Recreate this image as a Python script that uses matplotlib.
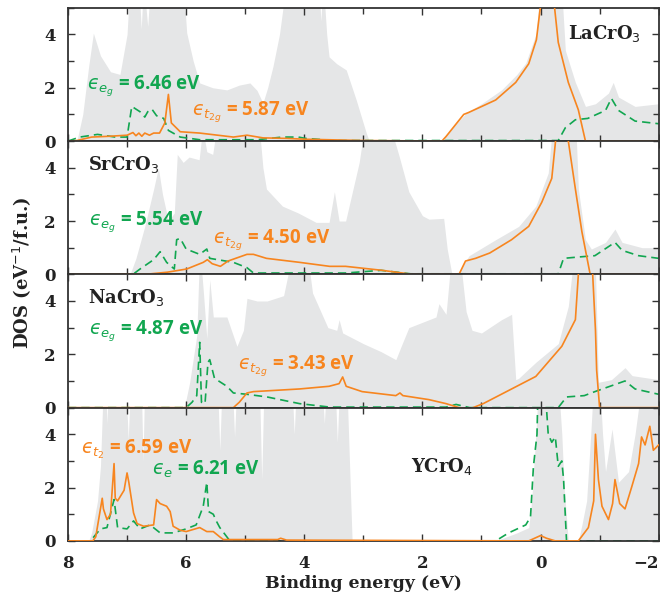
import matplotlib
matplotlib.use("Agg")
import matplotlib.pyplot as plt
import numpy as np
from matplotlib.ticker import MultipleLocator

# --- data (binding energy eV, DOS) ---
compounds = ["LaCrO$_3$", "SrCrO$_3$", "NaCrO$_3$", "YCrO$_4$"]

la_total = [(8.0, 0), (7.85, 0), (7.75, 1.0), (7.65, 2.8), (7.57, 4.05), (7.45, 3.2), (7.28, 2.6),
            (7.12, 2.5), (7.0, 4.0), (6.95, 6), (6.8, 6), (6.76, 4.2), (6.72, 6), (6.65, 4.3),
            (6.6, 6), (6.05, 6), (5.99, 4.06), (5.88, 3.0), (5.77, 2.18), (5.55, 2.0), (5.31, 1.92),
            (5.1, 2.1), (4.92, 2.18), (4.8, 1.9), (4.70, 1.43), (4.62, 2.0), (4.53, 2.8), (4.42, 4.0),
            (4.30, 6), (3.75, 6), (3.72, 4.5), (3.68, 6), (3.62, 4.0), (3.58, 3.16), (3.45, 2.9),
            (3.29, 2.67), (3.12, 1.54), (2.95, 0.3), (2.9, 0), (1.7, 0), (1.6, 0.2), (1.45, 0.6),
            (1.26, 1.05), (1.0, 1.4), (0.66, 1.92), (0.4, 2.5), (0.25, 2.93), (0.07, 4.06), (0.0, 6),
            (-0.35, 6), (-0.42, 3.4), (-0.59, 2.2), (-0.76, 1.3), (-0.93, 1.4), (-1.15, 1.8),
            (-1.23, 2.2), (-1.32, 1.65), (-1.6, 1.3), (-2.0, 1.4)]
la_t2g = [(8.0, 0), (7.85, 0.02), (7.6, 0.15), (7.3, 0.18), (7.0, 0.22), (6.9, 0.32), (6.85, 0.2),
          (6.8, 0.3), (6.75, 0.18), (6.7, 0.3), (6.62, 0.22), (6.55, 0.3), (6.45, 0.3), (6.36, 0.68),
          (6.3, 1.75), (6.25, 0.68), (6.1, 0.35), (5.77, 0.3), (5.2, 0.15), (4.97, 0.22),
          (4.7, 0.12), (4.3, 0.1), (4.0, 0.07), (3.0, 0.02), (1.67, 0.0), (1.6, 0.17), (1.3, 1.0),
          (1.22, 1.07), (0.76, 1.54), (0.42, 2.2), (0.2, 2.9), (0.07, 3.8), (-0.05, 6), (-0.19, 6),
          (-0.3, 3.7), (-0.47, 2.2), (-0.64, 1.17), (-0.76, 0.0), (-2.0, 0.0)]
la_eg = [(8.0, 0), (7.8, 0.15), (7.5, 0.25), (7.2, 0.15), (7.0, 0.15), (6.92, 1.3), (6.78, 1.1),
         (6.7, 0.9), (6.65, 1.1), (6.58, 1.2), (6.5, 0.95), (6.38, 0.85), (6.3, 0.4), (6.1, 0.15),
         (5.77, 0.05), (4.8, 0.05), (4.37, 0.15), (4.1, 0.15), (3.98, 0.1), (3.5, 0.02),
         (-0.3, 0.02), (-0.42, 0.5), (-0.59, 0.8), (-0.8, 0.85), (-1.1, 1.15), (-1.2, 1.6),
         (-1.32, 1.15), (-1.6, 0.75), (-2.0, 0.65)]

sr_total = [(8.0, 0), (6.95, 0), (6.85, 0.6), (6.7, 1.8), (6.55, 3.2), (6.47, 4.0), (6.4, 3.0),
            (6.3, 2.0), (6.2, 2.3), (6.15, 4.5), (6.05, 4.2), (5.95, 4.4), (5.78, 4.3), (5.72, 5.5),
            (5.65, 4.6), (5.55, 4.5), (5.45, 6), (4.78, 6), (4.7, 4.0), (4.64, 3.2), (4.37, 2.56),
            (4.1, 2.3), (3.8, 1.95), (3.58, 1.95), (3.49, 3.1), (3.41, 2.0), (3.3, 2.0), (3.07, 4.2),
            (2.95, 6), (2.6, 6), (2.39, 4.4), (2.23, 3.1), (2.0, 2.2), (1.89, 2.07), (1.64, 2.1),
            (1.58, 0.95), (1.5, 0), (1.4, 0), (1.38, 0.1), (1.21, 0.7), (0.76, 1.3), (0.37, 1.8),
            (0.08, 2.56), (-0.13, 3.8), (-0.22, 6), (-0.59, 6), (-0.64, 3.2), (-0.76, 1.3),
            (-0.86, 0.95), (-1.1, 1.2), (-1.26, 1.7), (-1.38, 1.2), (-1.72, 1.0), (-2.0, 1.0)]
sr_t2g = [(8.0, 0), (6.6, 0.02), (6.32, 0.08), (5.99, 0.2), (5.71, 0.45), (5.64, 0.55),
          (5.56, 0.4), (5.42, 0.3), (5.29, 0.5), (4.97, 0.75), (4.86, 0.75), (4.64, 0.6),
          (4.08, 0.45), (3.57, 0.3), (3.3, 0.3), (2.68, 0.15), (2.17, 0.0), (1.38, 0.0),
          (1.27, 0.5), (1.1, 0.6), (0.86, 0.8), (0.49, 1.3), (0.2, 1.8), (-0.02, 2.7), (-0.19, 3.6),
          (-0.3, 6), (-0.42, 6), (-0.47, 5.0), (-0.59, 3.2), (-0.7, 1.6), (-0.84, 0.0), (-2.0, 0.0)]
sr_eg = [(8.0, 0), (6.9, 0), (6.78, 0.2), (6.55, 0.55), (6.44, 0.85), (6.33, 0.45), (6.2, 0.2),
         (6.16, 1.3), (6.1, 1.35), (6.0, 0.95), (5.77, 0.75), (5.65, 0.95), (5.6, 0.6),
         (5.2, 0.45), (4.97, 0.25), (4.86, 0.05), (3.3, 0.05), (2.7, 0.15), (2.2, 0.02),
         (-0.3, 0.02), (-0.39, 0.6), (-0.64, 0.65), (-0.92, 0.7), (-1.26, 1.2), (-1.38, 0.9),
         (-1.66, 0.7), (-2.0, 0.6)]

na_total = [(8.0, 0), (6.05, 0), (6.02, 0.1), (5.94, 0.95), (5.82, 2.7), (5.77, 6), (5.71, 4.4),
            (5.65, 2.6), (5.6, 4.8), (5.54, 3.4), (5.31, 3.4), (5.14, 2.3), (5.03, 2.9), (4.97, 4.1),
            (4.8, 4.0), (4.63, 4.0), (4.35, 4.2), (4.18, 6), (3.96, 6), (3.86, 4.3), (3.6, 3.0),
            (3.45, 2.9), (3.41, 3.3), (3.35, 2.8), (3.0, 2.4), (2.7, 2.1), (2.45, 1.8), (2.36, 2.3),
            (2.23, 3.0), (1.77, 3.4), (1.72, 3.9), (1.6, 3.5), (1.55, 4.7), (1.5, 6), (1.38, 6),
            (1.26, 3.6), (1.16, 2.9), (1.0, 2.8), (0.66, 3.3), (0.49, 3.5), (0.42, 1.05),
            (0.37, 1.1), (0.08, 1.7), (-0.3, 2.4), (-0.47, 3.8), (-0.58, 6), (-0.92, 6),
            (-0.98, 0.95), (-1.2, 1.05), (-1.43, 1.5), (-1.55, 1.2), (-2.0, 1.05)]
na_t2g = [(8.0, 0), (5.2, 0.0), (5.1, 0.2), (4.97, 0.55), (4.86, 0.6), (4.08, 0.7), (3.58, 0.8),
          (3.41, 0.9), (3.35, 1.15), (3.29, 0.8), (3.02, 0.6), (2.45, 0.45), (2.38, 0.55),
          (2.33, 0.45), (1.89, 0.3), (1.6, 0.15), (1.38, 0.0), (1.2, -0.05), (0.97, 0.15),
          (0.49, 0.7), (0.08, 1.17), (-0.36, 2.3), (-0.59, 3.3), (-0.67, 6), (-0.86, 6),
          (-0.93, 2.9), (-0.95, 1.4), (-1.0, 0.0), (-2.0, 0.0)]
na_eg = [(8.0, 0), (6.0, 0), (5.9, 0.2), (5.82, 0.45), (5.77, 2.45), (5.74, 0.2), (5.68, 0.15),
         (5.63, 1.7), (5.6, 1.8), (5.52, 1.1), (5.31, 0.8), (5.2, 0.55), (4.97, 0.5), (4.63, 0.4),
         (4.08, 0.15), (3.57, 0.02), (1.6, 0.02), (1.43, 0.12), (1.2, 0.0), (-0.3, 0.0),
         (-0.44, 0.4), (-0.74, 0.45), (-0.92, 0.6), (-1.43, 1.0), (-1.6, 0.7), (-2.0, 0.5)]

y_total = [(8.0, 0), (7.65, 0), (7.6, 0.3), (7.5, 1.5), (7.45, 2.8), (7.4, 6), (7.36, 6),
           (7.34, 4.4), (7.31, 6), (7.02, 6), (6.98, 3.8), (6.94, 6), (6.76, 6), (6.73, 3.0),
           (6.7, 6), (5.47, 6), (5.43, 3.4), (5.39, 6), (5.22, 6), (5.18, 3.9), (5.14, 6),
           (4.76, 6), (4.72, 2.3), (4.68, 6), (4.21, 6), (4.17, 4.0), (4.13, 6), (3.7, 6),
           (3.66, 4.4), (3.62, 6), (3.48, 6), (3.44, 3.7), (3.4, 6), (3.28, 6), (3.19, 0),
           (0.76, 0), (0.4, 0.3), (0.2, 0.5), (0.15, 1.5), (0.08, 4.0), (0.03, 6), (-0.3, 6),
           (-0.36, 4.0), (-0.4, 2.0), (-0.47, 0), (-0.64, 0), (-0.7, 0.6), (-0.78, 1.5),
           (-0.85, 4.0), (-0.9, 6), (-1.0, 6), (-1.05, 4.0), (-1.1, 2.6), (-1.21, 4.2),
           (-1.32, 2.2), (-1.49, 2.6), (-1.6, 4.0), (-1.72, 6), (-2.0, 6)]
y_t2 = [(8.0, 0), (7.58, 0.0), (7.53, 0.15), (7.42, 1.6), (7.4, 1.2), (7.34, 0.8), (7.28, 1.0),
        (7.22, 2.9), (7.2, 1.6), (7.16, 1.5), (7.05, 1.9), (7.0, 2.55), (6.97, 2.2), (6.89, 1.05),
        (6.83, 0.65), (6.72, 0.55), (6.55, 0.6), (6.5, 1.55), (6.44, 1.4), (6.33, 1.3),
        (6.27, 1.1), (6.22, 0.55), (6.1, 0.4), (6.0, 0.35), (5.77, 0.5), (5.65, 0.35),
        (5.54, 0.35), (5.43, 0.15), (5.37, 0.05), (4.45, 0.05), (4.4, 0.1), (4.3, 0.03),
        (0.2, 0.0), (0.08, 0.12), (0.0, 0.2), (-0.1, 0.1), (-0.25, 0.0), (-0.64, 0.0),
        (-0.81, 0.5), (-0.9, 1.5), (-0.93, 4.0), (-0.98, 2.3), (-1.04, 1.3), (-1.15, 0.8),
        (-1.22, 1.4), (-1.26, 2.3), (-1.34, 1.4), (-1.43, 1.2), (-1.54, 2.0), (-1.66, 2.9),
        (-1.71, 3.9), (-1.77, 3.6), (-1.85, 4.3), (-1.91, 3.4), (-2.0, 3.6)]
y_e = [(8.0, 0), (7.62, 0.0), (7.45, 0.45), (7.34, 0.5), (7.22, 1.55), (7.16, 0.5), (7.0, 0.45),
       (6.89, 0.75), (6.78, 0.45), (6.61, 0.6), (6.44, 0.3), (6.22, 0.3), (6.0, 0.45),
       (5.83, 0.6), (5.71, 1.3), (5.65, 2.2), (5.62, 1.1), (5.54, 1.0), (5.49, 0.75),
       (5.43, 0.5), (5.31, 0.15), (5.26, 0.0), (0.76, 0.0), (0.54, 0.3), (0.25, 0.6),
       (0.17, 0.9), (0.12, 2.8), (0.06, 4.0), (0.04, 6), (-0.07, 6), (-0.13, 4.0),
       (-0.19, 3.7), (-0.25, 3.9), (-0.3, 2.8), (-0.36, 3.0), (-0.39, 2.3), (-0.44, 0.0),
       (-2.0, 0.0)]

x_ticks = [8, 6, 4, 2, 0, -2]

# annotation text: (text, x, y, colour key); lunate epsilon as in the original
annotations = [
    ["$\u03f5_{e_g}$ = 6.46 eV", "$\u03f5_{t_{2g}}$ = 5.87 eV"],
    ["$\u03f5_{e_g}$ = 5.54 eV", "$\u03f5_{t_{2g}}$ = 4.50 eV"],
    ["$\u03f5_{e_g}$ = 4.87 eV", "$\u03f5_{t_{2g}}$ = 3.43 eV"],
    ["$\u03f5_{t_2}$ = 6.59 eV", "$\u03f5_{e}$ = 6.21 eV"],
]
annot_pos = [
    [(7.68, 2.05, "eg"), (5.9, 1.1, "t2g")],
    [(7.64, 1.95, "eg"), (5.55, 1.3, "t2g")],
    [(7.64, 2.85, "eg"), (5.13, 1.55, "t2g")],
    [(7.78, 3.45, "t2g"), (6.58, 2.7, "eg")],
]
# compound label position and alignment
label_pos = [(-1.7, 4.05, "right"), (7.66, 4.12, "left"), (7.66, 4.12, "left"), (2.2, 2.8, "left")]

GRAY = "#e5e6e7"
ORANGE = "#f7851f"
GREEN = "#11a650"
colours = {"t2g": ORANGE, "eg": GREEN}

panels = [(la_total, la_t2g, la_eg), (sr_total, sr_t2g, sr_eg),
          (na_total, na_t2g, na_eg), (y_total, y_t2, y_e)]

SERIF = "DejaVu Serif"
SANS = "Open Sans"

fig, axes = plt.subplots(4, 1, figsize=(6.6, 5.99), dpi=100, sharex=True)
fig.subplots_adjust(left=0.103, right=0.998, top=0.987, bottom=0.097, hspace=0)

for i, ax in enumerate(axes):
    total, t2g, eg = (np.array(p, dtype=float) for p in panels[i])
    ax.fill_between(total[:, 0], 0, total[:, 1], color=GRAY, lw=0, zorder=1)
    ax.plot(t2g[:, 0], t2g[:, 1], color=ORANGE, lw=1.2, zorder=3)
    ax.plot(eg[:, 0], eg[:, 1], color=GREEN, lw=1.2, ls=(0, (5, 3)), zorder=2)

    ax.set_xlim(8, -2)
    ax.set_ylim(0, 5)
    ax.set_xticks(x_ticks)
    ax.xaxis.set_minor_locator(MultipleLocator(1))
    ax.yaxis.set_major_locator(MultipleLocator(2))
    ax.yaxis.set_minor_locator(MultipleLocator(1))
    ax.tick_params(which="both", direction="in", top=True, right=True, width=1.0,
                   color="#333333")
    ax.tick_params(which="major", length=5)
    ax.tick_params(which="minor", length=4)
    ax.tick_params(axis="y", pad=9)
    ax.tick_params(axis="x", pad=10)
    for sp in ax.spines.values():
        sp.set_linewidth(1.3)
        sp.set_color("#333333")

    lx, ly, ha = label_pos[i]
    ax.text(lx, ly, compounds[i], ha=ha, va="center", fontsize=13, fontweight="bold",
            fontfamily=SERIF, color="#222222", zorder=5)
    for txt, (tx, ty, key) in zip(annotations[i], annot_pos[i]):
        ax.text(tx, ty, txt, ha="left", va="center", fontsize=13.5, fontweight="bold",
                fontfamily=SANS, color=colours[key], zorder=5)

# bottom axis labels: the last one sits against the right edge as in the original
axes[-1].set_xticklabels(["8", "6", "4", "2", "0", "\u22122"])
for ax in axes:
    for lbl in ax.get_yticklabels() + ax.get_xticklabels():
        lbl.set_fontfamily(SERIF)
        lbl.set_fontweight("bold")
        lbl.set_fontsize(12)
        lbl.set_color("#222222")
axes[-1].get_xticklabels()[-1].set_horizontalalignment("right")

axes[-1].set_xlabel("Binding energy (eV)", fontsize=12.5, fontweight="bold",
                    fontfamily=SERIF, color="#222222", labelpad=2)
fig.text(0.033, 0.544, "DOS (eV$^{-1}$/f.u.)", rotation=90, ha="center", va="center",
         fontsize=13, fontweight="bold", fontfamily=SERIF, color="#222222")

fig.savefig("out.png", dpi=100)
